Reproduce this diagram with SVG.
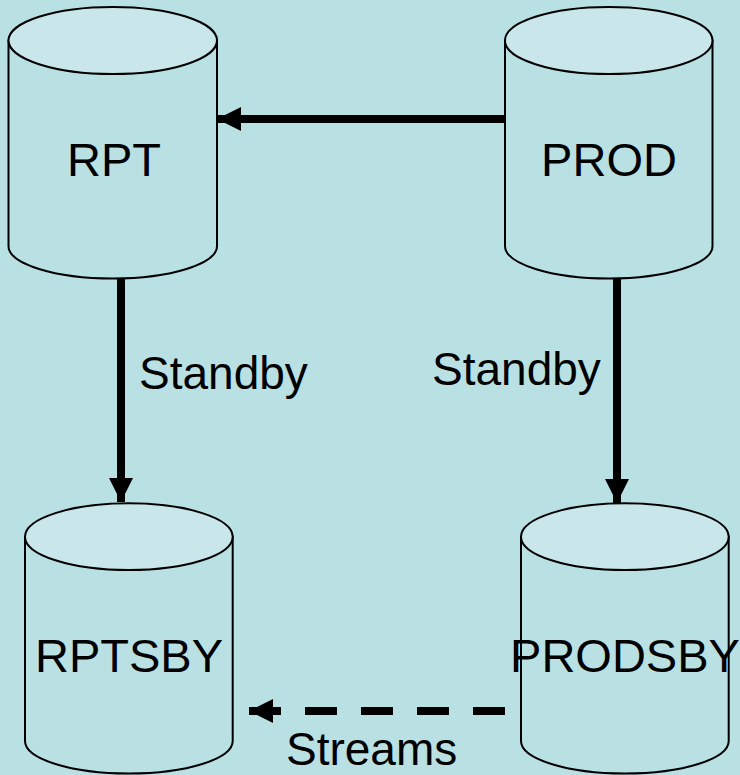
<svg xmlns="http://www.w3.org/2000/svg" width="740" height="775" viewBox="0 0 740 775">
  <defs>
    <style>
      .body { fill: #B9E0E3; stroke: #000; stroke-width: 2; }
      .lid { fill: #C9E7EA; stroke: #000; stroke-width: 2; }
      .name { font-family: "Liberation Sans", Arial, sans-serif; font-size: 47px; fill: #000; text-anchor: middle; }
      .label { font-family: "Liberation Sans", Arial, sans-serif; font-size: 46px; fill: #000; }
      .link { stroke: #000; stroke-width: 8; fill: none; }
      .dashed { stroke-dasharray: 32 24; }
    </style>
    <marker id="head" markerUnits="userSpaceOnUse" markerWidth="24" markerHeight="24" refX="24" refY="12" orient="auto">
      <path d="M0,0 L24,12 L0,24 Z" fill="#000"/>
    </marker>
  </defs>

  <rect width="740" height="775" fill="#B9E0E3"/>

  <!-- database cylinders -->
  <g id="rpt">
    <path class="body" d="M8.5,40.5 L8.5,246 A104.25,32.5 0 0 0 217,246 L217,40.5 Z"/>
    <ellipse class="lid" cx="112.75" cy="40.5" rx="104.25" ry="33.5"/>
    <text class="name" x="114" y="176">RPT</text>
  </g>

  <g id="prod">
    <path class="body" d="M505,40.5 L505,246 A103.75,32.5 0 0 0 712.5,246 L712.5,40.5 Z"/>
    <ellipse class="lid" cx="608.75" cy="40.5" rx="103.75" ry="33.5"/>
    <text class="name" x="609" y="176">PROD</text>
  </g>

  <g id="rptsby">
    <path class="body" d="M25,536.7 L25,741 A103.85,32.5 0 0 0 232.7,741 L232.7,536.7 Z"/>
    <ellipse class="lid" cx="128.85" cy="536.7" rx="103.85" ry="33.4"/>
    <text class="name" x="129" y="672">RPTSBY</text>
  </g>

  <g id="prodsby">
    <path class="body" d="M521,536.7 L521,741 A103.85,32.5 0 0 0 728.7,741 L728.7,536.7 Z"/>
    <ellipse class="lid" cx="624.85" cy="536.7" rx="103.85" ry="33.4"/>
    <text class="name" x="625" y="672">PRODSBY</text>
  </g>

  <!-- connectors -->
  <g id="connectors">
    <line class="link" x1="505" y1="119" x2="217" y2="119" marker-end="url(#head)"/>
    <line class="link" x1="121" y1="279" x2="121" y2="502" marker-end="url(#head)"/>
    <line class="link" x1="617" y1="279" x2="617" y2="503" marker-end="url(#head)"/>
    <line class="link dashed" x1="505" y1="711" x2="273" y2="711"/>
    <line class="link" x1="281" y1="711" x2="249" y2="711" marker-end="url(#head)"/>
    <text class="label" x="139" y="389">Standby</text>
    <text class="label" x="432" y="385">Standby</text>
    <text class="label" x="286" y="765">Streams</text>
  </g>
</svg>
